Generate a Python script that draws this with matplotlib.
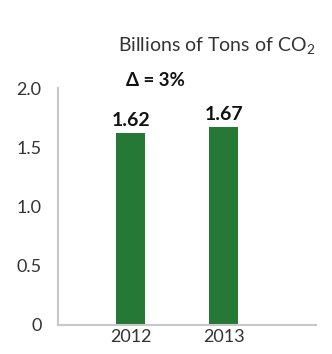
import matplotlib
matplotlib.use("Agg")
import matplotlib.pyplot as plt

# data
years = ["2012", "2013"]
emissions = [1.62, 1.67]
value_labels = ["1.62", "1.67"]
change_label = "\u0394 = 3%"
yticks = [0, 0.5, 1.0, 1.5, 2.0]
ytick_labels = ["0", "0.5", "1.0", "1.5", "2.0"]

plt.rcParams['font.family'] = ['Lato', 'DejaVu Sans']
plt.rcParams['mathtext.fontset'] = 'custom'
plt.rcParams['mathtext.rm'] = 'Lato'
plt.rcParams['mathtext.it'] = 'Lato'
text_col = '#333333'
green = '#257836'

fig = plt.figure(figsize=(3.32, 3.54), dpi=100)
ax = fig.add_axes([0.175, 0.082, 0.777, 0.669])

x = range(len(years))
bars = ax.bar(x, emissions, width=0.31, color=green)

ax.set_xlim(-0.78, 1.99)
ax.set_ylim(0, 2.0)
ax.set_xticks(list(x))
ax.set_xticklabels(years)
ax.set_yticks(yticks)
ax.set_yticklabels(ytick_labels)
ax.tick_params(length=0, labelsize=13, colors=text_col, pad=12)
ax.tick_params(axis='x', pad=3)

for s in ['top', 'right']:
    ax.spines[s].set_visible(False)
for s in ['left', 'bottom']:
    ax.spines[s].set_color('#c8c8c8')
    ax.spines[s].set_linewidth(1.5)

# value labels above bars
for b, lab in zip(bars, value_labels):
    ax.annotate(lab, (b.get_x() + b.get_width() / 2, b.get_height()),
                xytext=(0, 3), textcoords='offset points',
                ha='center', va='bottom', fontsize=14, fontweight='bold',
                color='#111111')

fig.text(155 / 332, 1 - 80 / 354, change_label, ha='center', va='center',
         fontsize=13.5, fontweight='bold', color='#111111')

fig.text(315 / 332, 1 - 45 / 354, "Billions of Tons of CO$_\\mathregular{2}$",
         ha='right', va='center', fontsize=14, color=text_col)

fig.savefig("out.png", dpi=100)
